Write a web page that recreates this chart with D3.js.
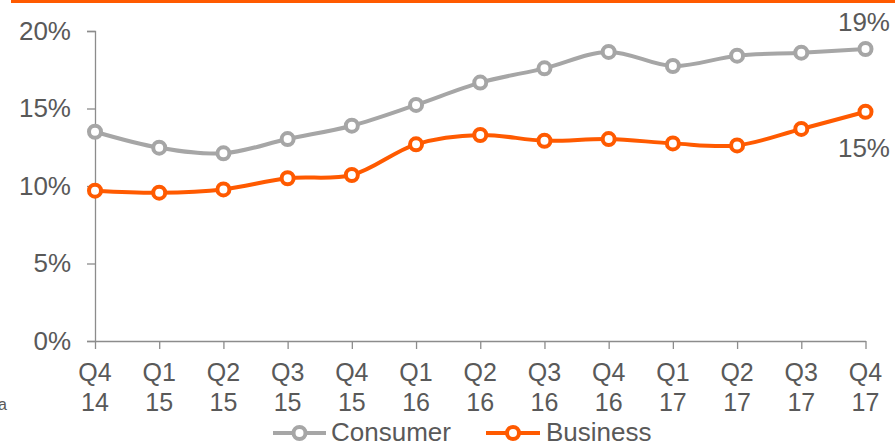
<!DOCTYPE html>
<html>
<head>
<meta charset="utf-8">
<script src="https://cdn.jsdelivr.net/npm/d3@7"></script>
<style>
  html, body { margin: 0; padding: 0; background: #fff; }
  svg { display: block; font-family: "Liberation Sans", Arial, sans-serif; }
</style>
</head>
<body>
<svg id="CHART" width="895" height="442"></svg>
<script>
// quarters, two label lines each
var QUARTERS = ["Q4", "Q1", "Q2", "Q3", "Q4", "Q1", "Q2", "Q3", "Q4", "Q1", "Q2", "Q3", "Q4"];
var YEARS = ["14", "15", "15", "15", "15", "16", "16", "16", "16", "17", "17", "17", "17"];
var CONSUMER = [13.5, 12.47, 12.11, 13.03, 13.89, 15.23, 16.67, 17.59, 18.65, 17.74, 18.41, 18.6, 18.84];
var BUSINESS = [9.7, 9.57, 9.78, 10.5, 10.71, 12.69, 13.29, 12.92, 13.03, 12.75, 12.62, 13.68, 14.79];
var Y_TICKS = [0, 5, 10, 15, 20];
var SERIES_NAMES = ["Consumer", "Business"];
var END_LABELS = ["19%", "15%"];

var GRAY = "#a6a6a6";
var ORANGE = "#ff5a00";
var TEXT = "#595959";
var AXIS = "#8c8c8c";

var width = 895;
var height = 442;
var svg = d3.select("#CHART");

var keys = QUARTERS.map(function (q, i) { return i; });

var x = d3.scalePoint().domain(keys).range([95, 865.5]);
var y = d3.scaleLinear().domain([0, 20]).range([341, 31]);

// orange rule on top
svg.append("rect")
  .attr("x", 11).attr("y", 0)
  .attr("width", width - 11).attr("height", 3)
  .attr("fill", ORANGE);

// y axis
var yAxis = svg.append("g")
  .attr("transform", "translate(95,0)")
  .call(d3.axisLeft(y).tickValues(Y_TICKS).tickSize(8).tickPadding(16)
    .tickFormat(function (d) { return d + "%"; }));
yAxis.select(".domain").attr("stroke", AXIS).attr("stroke-width", 1.3);
yAxis.selectAll(".tick line").attr("stroke", AXIS).attr("stroke-width", 1.3);
yAxis.selectAll(".tick text")
  .attr("fill", TEXT)
  .style("font-size", "26px")
  .style("font-family", "Liberation Sans, Arial, sans-serif");

// x axis
var xAxis = svg.append("g")
  .attr("transform", "translate(0," + y(0) + ")")
  .call(d3.axisBottom(x).tickSize(8).tickSizeOuter(0).tickFormat(""));
xAxis.select(".domain").attr("stroke", AXIS).attr("stroke-width", 1.3);
xAxis.selectAll(".tick line").attr("stroke", AXIS).attr("stroke-width", 1.3);

var xl = svg.append("g").attr("fill", TEXT).style("font-size", "25px")
  .attr("text-anchor", "middle");
keys.forEach(function (k) {
  xl.append("text").attr("x", x(k)).attr("y", 381).text(QUARTERS[k]);
  xl.append("text").attr("x", x(k)).attr("y", 411).text(YEARS[k]);
});

// lines
var line = d3.line()
  .x(function (d, i) { return x(i); })
  .y(function (d) { return y(d); })
  .curve(d3.curveCatmullRom.alpha(0.5));

var seriesData = [CONSUMER, BUSINESS];
var seriesColors = [GRAY, ORANGE];

seriesData.forEach(function (vals, s) {
  svg.append("path")
    .datum(vals)
    .attr("d", line)
    .attr("fill", "none")
    .attr("stroke", seriesColors[s])
    .attr("stroke-width", 4);
  svg.append("g").selectAll("circle")
    .data(vals)
    .join("circle")
    .attr("cx", function (d, i) { return x(i); })
    .attr("cy", function (d) { return y(d); })
    .attr("r", 6)
    .attr("fill", "#fff")
    .attr("stroke", seriesColors[s])
    .attr("stroke-width", 4);
});

// end labels
svg.append("text").attr("x", 890).attr("y", 31).attr("text-anchor", "end")
  .attr("fill", TEXT).style("font-size", "26px").text(END_LABELS[0]);
svg.append("text").attr("x", 890).attr("y", 157).attr("text-anchor", "end")
  .attr("fill", TEXT).style("font-size", "26px").text(END_LABELS[1]);

// stray footnote fragment at left
svg.append("text").attr("x", 7).attr("y", 410).attr("text-anchor", "end")
  .attr("fill", TEXT).style("font-size", "16px").text("a");

// legend
var legendItems = [
  { x1: 273, x2: 326, tx: 331, name: SERIES_NAMES[0], color: GRAY },
  { x1: 486, x2: 540, tx: 546, name: SERIES_NAMES[1], color: ORANGE }
];
var legend = svg.append("g");
legendItems.forEach(function (it) {
  var cy = 433;
  legend.append("line")
    .attr("x1", it.x1).attr("x2", it.x2).attr("y1", cy).attr("y2", cy)
    .attr("stroke", it.color).attr("stroke-width", 4);
  legend.append("circle")
    .attr("cx", (it.x1 + it.x2) / 2).attr("cy", cy).attr("r", 6)
    .attr("fill", "#fff").attr("stroke", it.color).attr("stroke-width", 4);
  legend.append("text")
    .attr("x", it.tx).attr("y", 441)
    .attr("fill", TEXT).style("font-size", "26px")
    .text(it.name);
});
</script>
</body>
</html>
